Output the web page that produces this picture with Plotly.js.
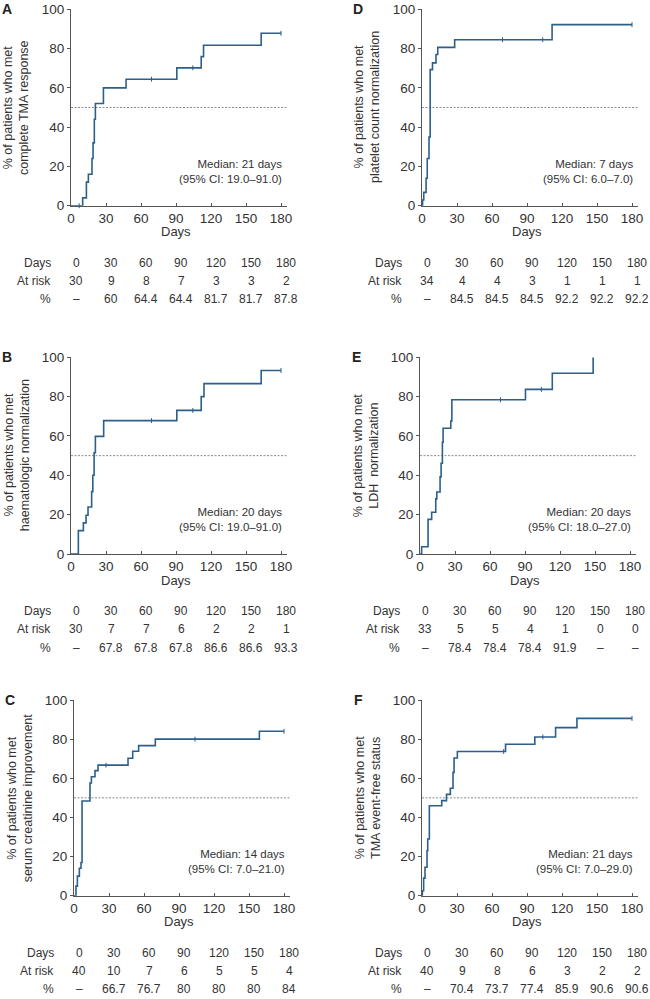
<!DOCTYPE html>
<html><head><meta charset="utf-8">
<script src="https://cdn.plot.ly/plotly-3.0.1.min.js"></script>
<style>html,body{margin:0;padding:0;background:#fff}</style>
</head><body><div id="chart" style="width:650px;height:999px"></div>
<script>
// ---------- data ----------
const tableDays = [0, 30, 60, 90, 120, 150, 180];
const xTicks = [0, 30, 60, 90, 120, 150, 180];
const yTicks = [0, 20, 40, 60, 80, 100];
const rowLabels = ['Days', 'At risk', '%'];

// A: complete TMA response
const daysA = [0, 10, 13.2, 14.9, 18, 18.9, 20, 20.9, 27.8, 47.2, 90.7, 111.6, 113.6, 163, 180];
const pctA  = [0, 4, 12, 16, 24, 32, 44, 52, 60, 64.4, 70.2, 75.9, 81.7, 87.8, 87.8];
const censorDaysA = [7, 69, 104.4, 180];
const censorPctA  = [0, 64.4, 70.2, 87.8];
const atRiskA = [30, 9, 8, 7, 3, 3, 2];
const tablePctA = ['–', '60', '64.4', '64.4', '81.7', '81.7', '87.8'];
const yTitleA = '% of patients who met<br>complete TMA response';
const medianA = 'Median: 21 days<br>(95% CI: 19.0–91.0)';

// D: platelet count normalization
const daysD = [0, 0.5, 1.5, 3.5, 4.5, 6, 7, 9, 12, 13.5, 28, 111.5, 180];
const pctD  = [0, 2.9, 6.8, 14, 24, 35, 69.3, 72.7, 77, 80.6, 84.5, 92.2, 92.2];
const censorDaysD = [69, 103.5, 180];
const censorPctD  = [84.5, 84.5, 92.2];
const atRiskD = [34, 4, 4, 3, 1, 1, 1];
const tablePctD = ['–', '84.5', '84.5', '84.5', '92.2', '92.2', '92.2'];
const yTitleD = '% of patients who met<br>platelet count normalization';
const medianD = 'Median: 7 days<br>(95% CI: 6.0–7.0)';

// B: haematologic normalization
const daysB = [0, 6.3, 10.6, 12.9, 14.6, 17.7, 18.7, 19.8, 20.9, 28, 90.7, 111.6, 114, 163, 180];
const pctB  = [0, 11.9, 15.8, 19.7, 23.9, 31.7, 40, 51.5, 59.8, 67.8, 73, 80, 86.6, 93.3, 93.3];
const censorDaysB = [69, 104.4, 180];
const censorPctB  = [67.8, 73, 93.3];
const atRiskB = [30, 7, 7, 6, 2, 2, 1];
const tablePctB = ['–', '67.8', '67.8', '67.8', '86.6', '86.6', '93.3'];
const yTitleB = '% of patients who met<br>haematologic normalization';
const medianB = 'Median: 20 days<br>(95% CI: 19.0–91.0)';

// E: LDH normalization
const daysE = [0, 1.4, 6.9, 10, 13.5, 14.4, 17.2, 18.1, 19.2, 19.8, 26.4, 27.3, 90.4, 113.4, 148.4];
const pctE  = [0, 3.7, 17.6, 21.2, 28, 31.5, 39.2, 46.1, 56.8, 63.9, 67.6, 78.4, 83.7, 91.9, 100];
const censorDaysE = [69, 104];
const censorPctE  = [78.4, 83.7];
const atRiskE = [33, 5, 5, 4, 1, 0, 0];
const tablePctE = ['–', '78.4', '78.4', '78.4', '91.9', '–', '–'];
const yTitleE = '% of patients who met<br>LDH  normalization';
const medianE = 'Median: 20 days<br>(95% CI: 18.0–27.0)';

// C: serum creatinine improvement
const daysC = [0, 1.7, 2.9, 4.6, 6, 6.9, 13.7, 14.9, 18, 20.6, 46.3, 50.3, 55.4, 69.7, 158.9, 180];
const pctC  = [0, 4.9, 10, 14, 17, 48.4, 57.6, 60.8, 63.9, 66.7, 70.2, 73.8, 76.7, 80, 84, 84];
const censorDaysC = [27.4, 103.7, 180];
const censorPctC  = [66.7, 80, 84];
const atRiskC = [40, 10, 7, 6, 5, 5, 4];
const tablePctC = ['–', '66.7', '76.7', '80', '80', '80', '84'];
const yTitleC = '% of patients who met<br>serum creatinine improvement';
const medianC = 'Median: 14 days<br>(95% CI: 7.0–21.0)';

// F: TMA event-free status
const daysF = [0, 0.3, 1.4, 2.6, 4.3, 4.9, 6.3, 16.9, 21, 24.3, 26.6, 27.5, 30.3, 71.6, 96.7, 114.5, 132.8, 180];
const pctF  = [0, 2.5, 9, 14.5, 23, 29, 46, 48.6, 51.8, 54.9, 63, 70.4, 73.7, 77.4, 81.1, 85.9, 90.6, 90.6];
const censorDaysF = [70, 103.6, 180];
const censorPctF  = [73.7, 81.1, 90.6];
const atRiskF = [40, 9, 8, 6, 3, 2, 2];
const tablePctF = ['–', '70.4', '73.7', '77.4', '85.9', '90.6', '90.6'];
const yTitleF = '% of patients who met<br>TMA event-free status';
const medianF = 'Median: 21 days<br>(95% CI: 7.0–29.0)';

// ---------- layout ----------
const W = 650, H = 999;
const FONT = '"Liberation Sans", Arial, Helvetica, sans-serif';
const TXT = '#333';
const LINE = '#2c5f8a';
const AXC = '#555';
const XMAX = 185;
const PXDAY = 1.1667;

const panels = [
  {letter:'A', d:daysA, p:pctA, cd:censorDaysA, cp:censorPctA, risk:atRiskA, tp:tablePctA, yt:yTitleA, med:medianA, left:71,  top:9.3,  bottom:205.7},
  {letter:'D', d:daysD, p:pctD, cd:censorDaysD, cp:censorPctD, risk:atRiskD, tp:tablePctD, yt:yTitleD, med:medianD, left:422, top:9.3,  bottom:205.7},
  {letter:'B', d:daysB, p:pctB, cd:censorDaysB, cp:censorPctB, risk:atRiskB, tp:tablePctB, yt:yTitleB, med:medianB, left:71,  top:357.3, bottom:554},
  {letter:'E', d:daysE, p:pctE, cd:censorDaysE, cp:censorPctE, risk:atRiskE, tp:tablePctE, yt:yTitleE, med:medianE, left:420, top:357.3, bottom:554},
  {letter:'C', d:daysC, p:pctC, cd:censorDaysC, cp:censorPctC, risk:atRiskC, tp:tablePctC, yt:yTitleC, med:medianC, left:74,  top:700,  bottom:895.7},
  {letter:'F', d:daysF, p:pctF, cd:censorDaysF, cp:censorPctF, risk:atRiskF, tp:tablePctF, yt:yTitleF, med:medianF, left:422, top:700,  bottom:895.7}
];

const traces = [];
const layout = {
  width: W, height: H,
  margin: {l:0, r:0, t:0, b:0},
  paper_bgcolor: '#fff', plot_bgcolor: '#fff',
  showlegend: false,
  font: {family: FONT, color: TXT, size: 13},
  annotations: [], shapes: []
};

panels.forEach((pn, i) => {
  const n = i + 1;
  const xa = n === 1 ? 'x' : 'x' + n;
  const ya = n === 1 ? 'y' : 'y' + n;
  const xk = n === 1 ? 'xaxis' : 'xaxis' + n;
  const yk = n === 1 ? 'yaxis' : 'yaxis' + n;
  const right = pn.left + XMAX * PXDAY;
  layout[xk] = {
    domain: [pn.left / W, right / W], anchor: ya,
    range: [0, XMAX], tickvals: xTicks, ticktext: xTicks.map(String),
    showline: true, linecolor: AXC, linewidth: 1,
    ticks: 'inside', ticklen: 3, tickcolor: AXC, tickwidth: 1,
    showgrid: false, zeroline: false, fixedrange: true,
    tickfont: {family: FONT, size: 13.5, color: TXT}
  };
  layout[yk] = {
    domain: [1 - pn.bottom / H, 1 - pn.top / H], anchor: xa,
    range: [0, 100], tickvals: yTicks, ticktext: yTicks.map(String),
    showline: true, linecolor: AXC, linewidth: 1,
    ticks: 'outside', ticklen: 3, tickcolor: AXC, tickwidth: 1,
    showgrid: false, zeroline: false, fixedrange: true,
    tickfont: {family: FONT, size: 13.5, color: TXT}
  };

  traces.push({
    x: pn.d, y: pn.p, xaxis: xa, yaxis: ya, type: 'scatter', mode: 'lines',
    line: {shape: 'hv', color: LINE, width: 1.6}, hoverinfo: 'skip'
  });
  traces.push({
    x: pn.cd, y: pn.cp, xaxis: xa, yaxis: ya, type: 'scatter', mode: 'markers',
    marker: {symbol: 'line-ns-open', size: 3.5, color: LINE, line: {color: LINE, width: 1}},
    hoverinfo: 'skip', cliponaxis: false
  });

  layout.shapes.push({
    type: 'line', xref: xa + ' domain', x0: 0, x1: 1, yref: ya, y0: 50, y1: 50,
    line: {color: '#8a8a8a', width: 1, dash: '2px,1.5px'}, layer: 'below'
  });

  const A = layout.annotations;
  A.push({text: '<b>' + pn.letter + '</b>', xref: xa + ' domain', x: 0, xshift: -64, xanchor: 'center',
          yref: ya + ' domain', y: 1, yanchor: 'middle', showarrow: false,
          font: {family: FONT, size: 14, color: '#222'}});
  A.push({text: pn.yt, xref: xa + ' domain', x: 0, xshift: -54.5, xanchor: 'center',
          yref: ya + ' domain', y: 0.5, yanchor: 'middle', textangle: -90, showarrow: false,
          font: {family: FONT, size: 12.5, color: TXT}});
  A.push({text: 'Days', xref: xa, x: 90, xanchor: 'center', yref: ya + ' domain', y: 0, yshift: -26,
          yanchor: 'middle', showarrow: false, font: {family: FONT, size: 13, color: TXT}});
  A.push({text: pn.med, xref: xa, x: 180, xshift: 3, xanchor: 'right', align: 'right',
          yref: ya, y: 17.5, yanchor: 'middle', showarrow: false,
          font: {family: FONT, size: 11.5, color: TXT}});
  const rowOff = [-57, -75, -93.5];
  const rows = [tableDays.map(String), pn.risk.map(String), pn.tp];
  rows.forEach((vals, r) => {
    A.push({text: rowLabels[r], xref: xa, x: 0, xshift: -18, xanchor: 'right',
            yref: ya + ' domain', y: 0, yshift: rowOff[r], yanchor: 'middle', showarrow: false,
            font: {family: FONT, size: 12, color: TXT}});
    vals.forEach((v, j) => {
      A.push({text: v, xref: xa, x: tableDays[j], xshift: 5, xanchor: 'center',
              yref: ya + ' domain', y: 0, yshift: rowOff[r], yanchor: 'middle', showarrow: false,
              font: {family: FONT, size: 12, color: TXT}});
    });
  });
});

Plotly.newPlot('chart', traces, layout, {displayModeBar: false, staticPlot: true});
</script>
</body></html>
